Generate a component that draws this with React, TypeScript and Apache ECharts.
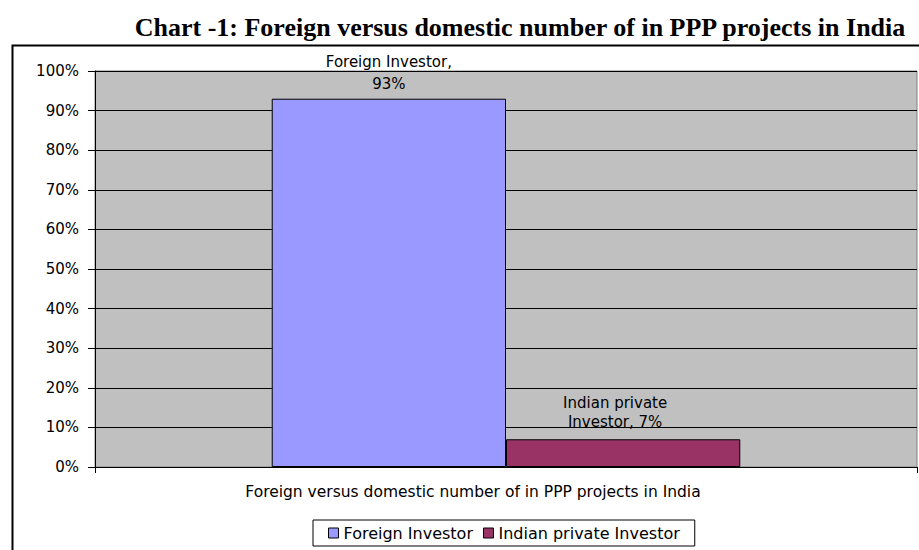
import React, { useEffect, useRef } from "react";
import * as echarts from "echarts";

const titleText = "Chart -1: Foreign versus domestic number of in PPP projects in India";
const categories = ["Foreign versus domestic number of in PPP projects in India"];
const seriesNames = ["Foreign Investor", "Indian private Investor"];
const foreignValues = [93];
const indianValues = [7];
const seriesColors = ["#9999FF", "#993366"];
// label line layouts as printed in the reference
const labelFormats = ["{a},\n{c}%", "Indian private\nInvestor, {c}%"];

const FONT = "DejaVu Sans";

export default function App() {
  const ref = useRef<HTMLDivElement>(null);
  useEffect(() => {
    document.body.style.margin = "0";
    const chart = echarts.init(ref.current!, undefined, { renderer: "svg" });
    const labelCfg = (fmt: string, lh: number, dist: number, dx: number) => ({
      show: true,
      position: "top",
      distance: dist,
      offset: [dx, 0],
      formatter: fmt,
      color: "#000",
      fontFamily: FONT,
      fontSize: 15,
      lineHeight: lh,
    });
    chart.setOption({
      animation: false,
      backgroundColor: "#fff",
      title: {
        text: titleText,
        left: 515,
        top: 9,
        textAlign: "center",
        textStyle: {
          fontFamily: "Liberation Serif",
          fontWeight: "bold",
          fontSize: 26,
          color: "#000",
        },
      },
      graphic: [
        {
          type: "rect",
          left: 10,
          top: 43,
          shape: { width: 930, height: 530 },
          style: { fill: "none", stroke: "#000", lineWidth: 2 },
          silent: true,
          z: -1,
        },
      ],
      legend: {
        data: seriesNames,
        left: 313,
        top: 520,
        icon: "rect",
        itemWidth: 10,
        itemHeight: 10,
        itemGap: 10,
        padding: [5, 15],
        backgroundColor: "#fff",
        borderColor: "#000",
        borderWidth: 1,
        itemStyle: { borderColor: "#000", borderWidth: 1 },
        textStyle: { fontFamily: FONT, fontSize: 16, color: "#000" },
      },
      grid: {
        left: 95,
        right: 2,
        top: 71,
        bottom: 83,
        show: true,
        backgroundColor: "#C0C0C0",
        borderColor: "#808080",
        borderWidth: 1,
      },
      xAxis: {
        type: "category",
        data: categories,
        axisLine: { show: true, lineStyle: { color: "#000", width: 1 } },
        axisTick: { show: true, length: 6, lineStyle: { color: "#000" } },
        axisLabel: {
          color: "#000",
          fontFamily: FONT,
          fontSize: 15.5,
          margin: 17,
          padding: [0, 66, 0, 0],
        },
      },
      yAxis: {
        type: "value",
        min: 0,
        max: 100,
        interval: 10,
        axisLine: { show: true, lineStyle: { color: "#000", width: 1 } },
        axisTick: { show: true, length: 7, lineStyle: { color: "#000" } },
        axisLabel: {
          formatter: "{value}%",
          color: "#000",
          fontFamily: FONT,
          fontSize: 15,
          margin: 16,
        },
        splitLine: { show: true, lineStyle: { color: "#000", width: 1 } },
      },
      series: [
        {
          name: seriesNames[0],
          type: "bar",
          data: foreignValues,
          barGap: "0%",
          barCategoryGap: "43%",
          itemStyle: { color: seriesColors[0], borderColor: "#000", borderWidth: 1 },
          label: labelCfg(labelFormats[0], 22, 4, 0),
        },
        {
          name: seriesNames[1],
          type: "bar",
          data: indianValues,
          barGap: "0%",
          barCategoryGap: "43%",
          itemStyle: { color: seriesColors[1], borderColor: "#000", borderWidth: 1 },
          label: labelCfg(labelFormats[1], 19, 8, -8),
        },
      ],
    });
    return () => chart.dispose();
  }, []);
  return (
    <div
      ref={ref}
      style={{ position: "fixed", left: 0, top: 0, width: 919, height: 550 }}
    />
  );
}
